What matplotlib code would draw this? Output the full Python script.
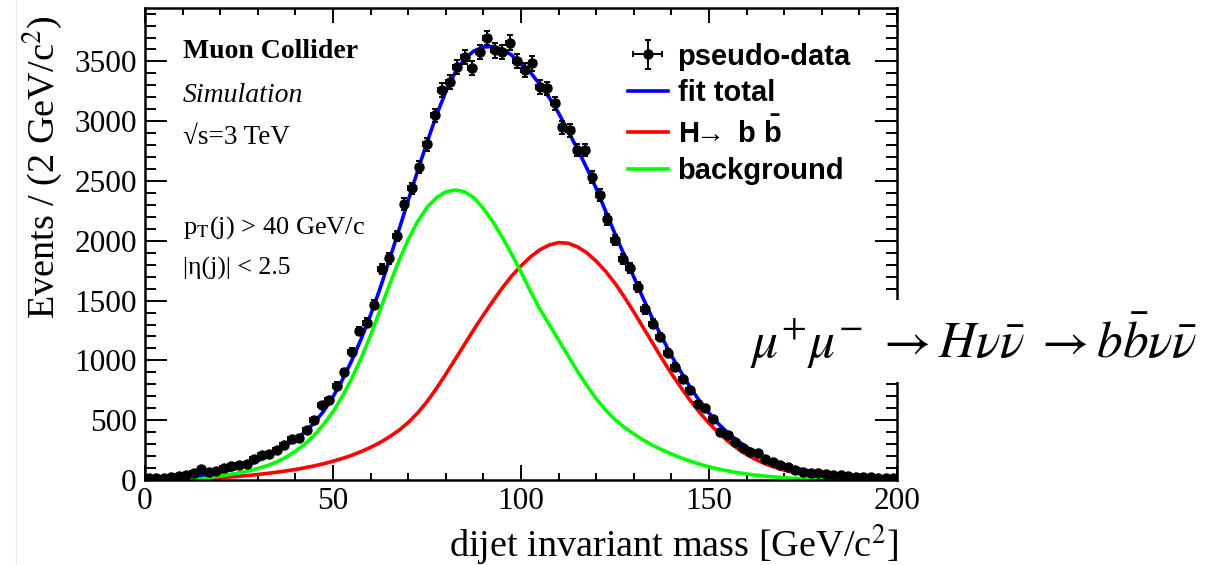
import numpy as np
import matplotlib
matplotlib.use("Agg")
import matplotlib.pyplot as plt
from matplotlib.patches import Rectangle
from matplotlib.lines import Line2D

plt.rcParams['mathtext.fontset'] = 'stix'
plt.rcParams['mathtext.rm'] = 'Liberation Sans:bold'
plt.rcParams['mathtext.bf'] = 'Liberation Sans:bold'
plt.rcParams['mathtext.it'] = 'Liberation Sans:bold:italic'
plt.rcParams['mathtext.sf'] = 'Liberation Sans:bold'
plt.rcParams['font.family'] = ['Liberation Serif', 'DejaVu Serif']

# ---------------- data ----------------
bin_centers = [1, 3, 5, 7, 9, 11, 13, 15, 17, 19, 21, 23, 25, 27, 29, 31, 33, 35, 37, 39,
               41, 43, 45, 47, 49, 51, 53, 55, 57, 59, 61, 63, 65, 67, 69, 71, 73, 75, 77, 79,
               81, 83, 85, 87, 89, 91, 93, 95, 97, 99, 101, 103, 105, 107, 109, 111, 113, 115, 117, 119,
               121, 123, 125, 127, 129, 131, 133, 135, 137, 139, 141, 143, 145, 147, 149, 151, 153, 155, 157, 159,
               161, 163, 165, 167, 169, 171, 173, 175, 177, 179, 181, 183, 185, 187, 189, 191, 193, 195, 197, 199]
pseudo_data = [14, 19, 19, 28, 33, 42, 56, 89, 70, 78, 98, 117, 126, 134, 173, 209, 218, 251, 293, 340,
               349, 418, 505, 630, 669, 790, 900, 1073, 1244, 1315, 1466, 1765, 1853, 2040, 2308, 2438, 2620, 2808, 3051, 3261,
               3330, 3456, 3535, 3442, 3581, 3698, 3593, 3581, 3658, 3503, 3428, 3483, 3288, 3274, 3149, 2948, 2926, 2759, 2759, 2536,
               2383, 2179, 2006, 1851, 1769, 1616, 1428, 1308, 1198, 1059, 945, 843, 752, 633, 599, 508, 404, 376, 320, 264,
               237, 223, 172, 153, 125, 111, 83, 69, 58, 56, 47, 42, 39, 33, 28, 25, 22, 20, 18, 15]

curve_x = [0, 2.5, 5, 7.5, 10, 12.5, 15, 17.5, 20, 22.5, 25, 27.5, 30, 32.5, 35, 37.5, 40, 42.5, 45, 47.5,
           50, 52.5, 55, 57.5, 60, 62.5, 65, 67.5, 70, 72.5, 75, 77.5, 80, 82.5, 85, 87.5, 90, 92.5, 95, 97.5,
           100, 102.5, 105, 107.5, 110, 112.5, 115, 117.5, 120, 122.5, 125, 127.5, 130, 132.5, 135, 137.5, 140, 142.5, 145, 147.5,
           150, 152.5, 155, 157.5, 160, 162.5, 165, 167.5, 170, 172.5, 175, 177.5, 180, 182.5, 185, 187.5, 190, 192.5, 195, 197.5, 200]
fit_total = [8, 10, 13, 17, 22, 30, 40, 52, 66, 82, 102, 128, 160, 198, 242, 290, 340, 400, 478, 575,
             695, 838, 1000, 1180, 1380, 1600, 1840, 2088, 2338, 2583, 2823, 3048, 3248, 3408, 3523, 3588, 3620, 3626, 3603, 3553,
             3478, 3408, 3308, 3198, 3068, 2918, 2768, 2608, 2438, 2248, 2058, 1878, 1698, 1518, 1348, 1193, 1040, 905, 775, 660,
             560, 470, 395, 330, 275, 228, 188, 155, 127, 104, 85, 69, 56, 45, 36, 29, 23, 18, 14, 11, 9]
signal_hbb = [0, 1, 2, 4, 6, 9, 12, 16, 20, 25, 31, 38, 46, 55, 65, 76, 88, 102, 118, 136,
              157, 180, 207, 238, 273, 313, 360, 415, 480, 560, 655, 765, 885, 1010, 1135, 1260, 1380, 1495, 1605, 1705,
              1790, 1865, 1925, 1965, 1985, 1980, 1950, 1900, 1830, 1745, 1645, 1530, 1405, 1275, 1145, 1015, 890, 775, 665, 565,
              475, 395, 325, 265, 213, 170, 135, 106, 82, 63, 48, 36, 27, 20, 14, 10, 7, 5, 3, 2, 1]
background = [0, 0, 0, 1, 3, 8, 15, 24, 34, 46, 60, 76, 96, 120, 150, 190, 240, 300, 375, 465,
              570, 700, 850, 1020, 1210, 1420, 1630, 1830, 2010, 2160, 2280, 2360, 2410, 2425, 2410, 2360, 2270, 2160, 2030, 1890,
              1740, 1580, 1430, 1300, 1170, 1040, 910, 790, 680, 585, 505, 440, 385, 335, 290, 252, 218, 186, 158, 132,
              110, 92, 76, 62, 50, 40, 32, 25, 19, 14, 10, 7, 5, 3, 2, 1, 0, 0, 0, 0, 0]

legend_labels = ["pseudo-data", "fit total", r"$\mathrm{H}\!\!\rightarrow\;\mathrm{b}\ \bar{\mathrm{b}}$", "background"]
x_ticks = [0, 50, 100, 150, 200]
y_ticks = [0, 500, 1000, 1500, 2000, 2500, 3000, 3500]

W, H = 1210, 565
fig = plt.figure(figsize=(W / 100, H / 100), dpi=100)
ax = fig.add_axes([145 / W, 1 - 480 / H, (897 - 145) / W, (480 - 8) / H])

l_fit, = ax.plot(curve_x, fit_total, color=(0, 0, 1), lw=2.6, zorder=3)
l_sig, = ax.plot(curve_x, signal_hbb, color=(1, 0, 0), lw=2.6, zorder=2)
l_bkg, = ax.plot(curve_x, background, color=(0, 1, 0), lw=2.6, zorder=2)

cnt = np.array(pseudo_data, dtype=float)
eb = ax.errorbar(bin_centers, cnt, yerr=np.sqrt(cnt), xerr=1.0, fmt='o', color='black',
                 ms=6.5, elinewidth=1.4, capsize=2.2, capthick=1.4, zorder=4)

ax.set_xlim(0, 200)
ax.set_ylim(0, 3947)
ax.set_xticks(x_ticks)
ax.set_yticks(y_ticks)
ax.set_xticks(np.arange(0, 201, 10), minor=True)
ax.set_yticks(np.arange(0, 3901, 100), minor=True)
ax.tick_params(axis='both', which='both', direction='in', top=True, right=True,
               labelsize=22.5, width=1.4)
ax.tick_params(axis='y', which='major', length=15.5, pad=6)
ax.tick_params(axis='y', which='minor', length=8.2)
ax.tick_params(axis='x', which='major', length=10.5, pad=5)
ax.tick_params(axis='x', which='minor', length=5.3)
for s in ax.spines.values():
    s.set_linewidth(1.8)

fig.text(42 / W, 1 - 15 / H, r"Events / (2 GeV/c$^{2}$)", rotation=90, ha='center', va='top',
         fontsize=27.5, math_fontfamily='stix')
fig.text(898 / W, 1 - 545 / H, r"dijet invariant mass [GeV/c$^{2}$]", ha='right', va='center',
         fontsize=27.5, math_fontfamily='stix')

fig.text(183 / W, 1 - 52 / H, "Muon Collider", fontweight='bold', fontsize=20, va='center', ha='left')
fig.text(183 / W, 1 - 96 / H, "Simulation", fontstyle='italic', fontsize=20, va='center', ha='left')
fig.text(183 / W, 1 - 137 / H, "√s=3 TeV", fontsize=19.5, va='center', ha='left')
fig.text(183 / W, 1 - 228 / H, r"p$_{\mathrm{T}}$(j) > 40 GeV/c", fontsize=19, va='center', ha='left',
         math_fontfamily='stix')
fig.text(183 / W, 1 - 268 / H, "|η(j)| < 2.5", fontsize=18.5, va='center', ha='left')

leg = ax.legend([eb, l_fit, l_sig, l_bkg], legend_labels, loc='upper left',
                bbox_to_anchor=(616 / W, 1 - 31 / H), bbox_transform=fig.transFigure,
                frameon=False, prop={'family': ['Liberation Sans', 'DejaVu Sans'], 'weight': 'bold', 'size': 21},
                handlelength=1.37, handletextpad=0.34, labelspacing=0.30, borderaxespad=0)
for t in leg.get_texts():
    t.set_math_fontfamily('custom')

fig.add_artist(Rectangle((740 / W, 1 - 382 / H), 470 / W, 82 / H, transform=fig.transFigure,
                         facecolor='white', edgecolor='none', zorder=5))
fig.text(750 / W, 1 - 358 / H, r"$\mu^{+}\mu^{-}\;\rightarrow H\nu\bar{\nu}\;\rightarrow b\bar{b}\nu\bar{\nu}$",
         fontsize=37, ha='left', va='baseline', zorder=6, math_fontfamily='stix')
fig.add_artist(Line2D([16 / W, 16 / W], [0, 1], transform=fig.transFigure, color='#ececec', lw=0.8))

fig.savefig("out.png", dpi=100)
